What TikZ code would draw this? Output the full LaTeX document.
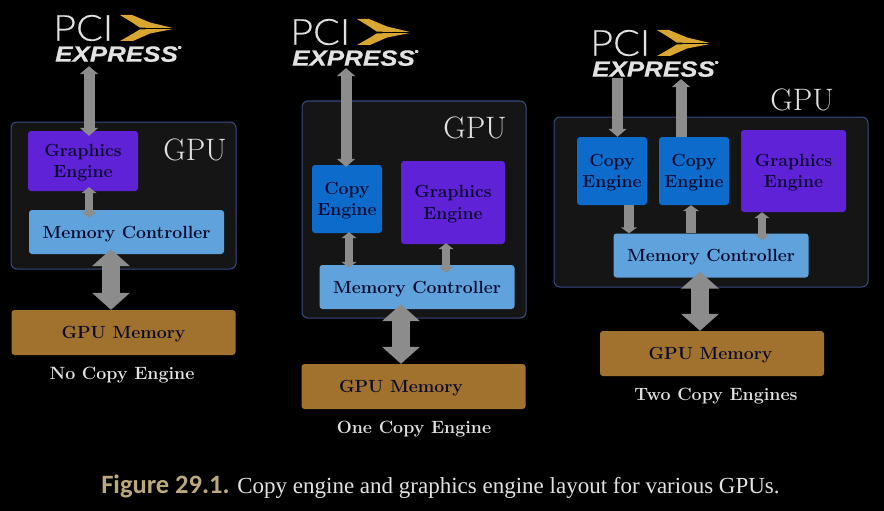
\documentclass[tikz,border=0pt]{standalone}
\usepackage{fontspec}
\usetikzlibrary{arrows.meta,positioning}
\newfontfamily\pcifont[FakeStretch=1.1,FakeBold=0.4]{Lato Light}
\newfontfamily\expressfont[FakeStretch=1.18,FakeBold=0.5]{Liberation Sans}
\newfontfamily\figfont{Carlito}
\setmainfont{Liberation Serif}
\newfontfamily\labelfont{Latin Modern Roman}
\definecolor{gefill}{HTML}{5F22D6}
\definecolor{cefill}{HTML}{0C6BCB}
\definecolor{mcfill}{HTML}{5FA2DC}
\definecolor{memfill}{HTML}{A0722E}
\definecolor{gpufill}{HTML}{151515}
\definecolor{gpuline}{HTML}{3A4A82}
\definecolor{labeldark}{HTML}{0A0A2E}
\definecolor{chevron}{HTML}{D9A632}
\definecolor{arrowgray}{HTML}{8C8C8C}
\definecolor{figtan}{HTML}{BBA87F}
\definecolor{soft}{HTML}{E2E2E2}
\tikzset{
  block/.style={rounded corners=3pt,inner sep=0pt,text=labeldark,align=center,text depth=0pt,
    font=\labelfont\bfseries\fontsize{17.6}{21.5}\selectfont},
  gebox/.style={block,fill=gefill},
  cebox/.style={block,fill=cefill},
  mcbox/.style={block,fill=mcfill,minimum width=195pt,minimum height=44pt},
  membox/.style={block,fill=memfill,minimum width=224pt,minimum height=45pt},
  gpubox/.style={draw=gpuline,line width=1pt,fill=gpufill,rounded corners=6pt,inner sep=0pt},
  gpulabel/.style={text=soft,inner sep=0pt,font=\labelfont\fontsize{31}{31}\selectfont},
  sublabel/.style={text=soft,inner sep=0pt,text depth=0pt,font=\labelfont\bfseries\fontsize{17.8}{20}\selectfont},
  bigarrow/.style={draw=arrowgray,line width=18pt,{Triangle[width=37pt,length=17pt]}-{Triangle[width=37pt,length=17pt]}},
  midarrow/.style={draw=arrowgray,line width=11pt,-{Triangle[width=18pt,length=8pt]}},
  midboth/.style={draw=arrowgray,line width=11pt,{Triangle[width=18pt,length=8pt]}-{Triangle[width=18pt,length=8pt]}},
  tinyarrow/.style={draw=arrowgray,line width=10pt,-{Triangle[width=16pt,length=6pt]}},
  tinyboth/.style={draw=arrowgray,line width=8pt,{Triangle[width=15pt,length=6pt]}-{Triangle[width=15pt,length=6pt]}},
}
\begin{document}
\begin{tikzpicture}[x=1pt,y=-1pt]
\useasboundingbox (0,0) rectangle (884,511);
\fill[black] (0,0) rectangle (884,511);
% logos
\foreach \n/\x/\y in {logoA/55/14,logoB/292/18,logoC/592/29} {
  \begin{scope}[shift={(\x,\y)}]
  \node[anchor=west,inner sep=0pt,text=soft,font=\pcifont\fontsize{36}{36}\selectfont] (\n pci) at (-2,14) {PCI};
  \node[anchor=west,inner sep=0pt,text=soft,font=\expressfont\bfseries\itshape\fontsize{22}{22}\selectfont] (\n) at (0,40) {EXPRESS\raisebox{1.1ex}{\fontsize{4}{4}\selectfont ®}};
  \fill[chevron] (65,1) -- (77,1) -- (95,8.5) -- (118,14) -- (85,13.7) -- (78,9) -- cycle;
  \fill[chevron] (65,27) -- (78,27) -- (95,19.5) -- (118,15) -- (85,15.3) -- (79,19) -- cycle;
  \end{scope}
}
% arrow columns
\foreach \n/\x in {colAa/89,colAb/111,colBa/346,colBb/349,colBc/446,colBd/401,colCa/617.5,colCb/681,colCc/629,colCd/691,colCe/762,colCf/700}
  \coordinate (\n) at (\x,0);
% no copy engine
\node[gpubox,minimum width=225pt,minimum height=147pt] (gpuA) at (123.5,195.5) {};
\node[gebox,minimum width=110pt,minimum height=60pt] (geA) at (83,161) {Graphics\\Engine};
\node[mcbox] (mcA) at (126.5,232) {Memory Controller};
\node[membox] (memA) at (123.5,332.5) {GPU Memory};
\node[gpulabel] (gpuAtext) at (195,150) {GPU};
\node[sublabel] (capA) at (122,373) {No Copy Engine};
\draw[midboth] ([yshift=-4pt]colAa |- logoA.south) -- ([yshift=-5pt]colAa |- geA.north);
\draw[tinyboth] ([yshift=4pt]colAa |- geA.south) -- ([yshift=-8pt]colAa |- mcA.north);
\draw[bigarrow] ([yshift=5pt]colAb |- mcA.south) -- (colAb |- memA.north);
% one copy engine
\node[gpubox,minimum width=224pt,minimum height=217pt] (gpuB) at (414,209.5) {};
\node[cebox,minimum width=70pt,minimum height=68pt] (ceB) at (347,199) {Copy\\Engine};
\node[gebox,minimum width=104pt,minimum height=83pt] (geB) at (453,202.5) {Graphics\\Engine};
\node[mcbox] (mcB) at (417,287) {Memory Controller};
\node[membox] (memB) at (413.5,386.5) {GPU Memory\hspace{25pt}};
\node[gpulabel] (gpuBtext) at (475,128) {GPU};
\node[sublabel] (capB) at (414,427) {One Copy Engine};
\draw[midboth] ([yshift=-2pt]colBa |- logoB.south) -- ([yshift=-2pt]colBa |- ceB.north);
\draw[tinyboth] ([yshift=1pt]colBb |- ceB.south) -- ([yshift=-3pt]colBb |- mcB.north);
\draw[tinyboth] ([yshift=1pt]colBc |- geB.south) -- ([yshift=-8pt]colBc |- mcB.north);
\draw[bigarrow] ([yshift=5pt]colBd |- mcB.south) -- (colBd |- memB.north);
% two copy engines
\node[gpubox,minimum width=314pt,minimum height=170pt] (gpuC) at (711,202) {};
\node[cebox,minimum width=70pt,minimum height=68pt] (ceCa) at (612,171) {Copy\\Engine};
\node[cebox,minimum width=70pt,minimum height=68pt] (ceCb) at (694,171) {Copy\\Engine};
\node[gebox,minimum width=105pt,minimum height=82pt] (geC) at (793.5,171) {Graphics\\Engine};
\node[mcbox] (mcC) at (711,255.5) {Memory Controller};
\node[membox] (memC) at (712,353.5) {GPU Memory\hspace{3pt}};
\node[gpulabel] (gpuCtext) at (802,100) {GPU};
\node[sublabel] (capC) at (716,394) {Two Copy Engines};
\draw[midarrow] ([yshift=-1pt]colCa |- logoC.south) -- (colCa |- ceCa.north);
\draw[midarrow] (colCb |- ceCb.north) -- ([yshift=-2pt]colCb |- logoC.south);
\draw[tinyarrow] (colCc |- ceCa.south) -- (colCc |- mcC.north);
\draw[tinyarrow] (colCd |- mcC.north) -- (colCd |- ceCb.south);
\draw[tinyboth] (colCe |- geC.south) -- ([yshift=-7pt]colCe |- mcC.north);
\draw[bigarrow] ([yshift=6pt]colCf |- mcC.south) -- (colCf |- memC.north);
% caption
\node[inner sep=0pt,text=soft,anchor=base,font=\fontsize{23}{23}\selectfont] (caption) at (440.5,493) {{\figfont\bfseries\fontsize{26.5}{26.5}\selectfont\color{figtan}Figure 29.1.} Copy engine and graphics engine layout for various GPUs.};
\end{tikzpicture}
\end{document}
